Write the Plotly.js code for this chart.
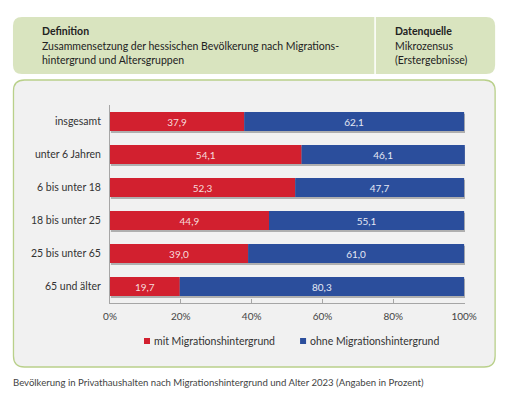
<!DOCTYPE html>
<html><head><meta charset="utf-8">
<script src="https://cdn.plot.ly/plotly-3.0.1.min.js"></script>
<style>html,body{margin:0;padding:0;background:#fff;}#chart{width:510px;height:396px;}</style>
</head><body><div id="chart"></div>
<script>
const categories = ["insgesamt","unter 6 Jahren","6 bis unter 18","18 bis unter 25","25 bis unter 65","65 und älter"];
const seriesNames = ["mit Migrationshintergrund","ohne Migrationshintergrund"];
const mitValues = [37.9,54.1,52.3,44.9,39.0,19.7];
const ohneValues = [62.1,46.1,47.7,55.1,61.0,80.3];
const tickVals = [0,20,40,60,80,100];
const tickLabels = ["0%","20%","40%","60%","80%","100%"];
const colors = ["#d2202f","#2b4e9c"];

const XMAX=100.25;
const W=510,H=396,L=110,B=93,T=105;
const pw=354*XMAX/100, R=W-L-pw;
const ph=H-T-B;
const xp=px=>(px-L)/pw, yp=py=>(H-B-py)/ph;
function rrect(x0,y0,x1,y1,r){
  const P=(x,y)=>xp(x)+','+yp(y);
  return 'M'+P(x0+r,y0)+' L'+P(x1-r,y0)+' Q'+P(x1,y0)+' '+P(x1,y0+r)+
    ' L'+P(x1,y1-r)+' Q'+P(x1,y1)+' '+P(x1-r,y1)+' L'+P(x0+r,y1)+' Q'+P(x0,y1)+' '+P(x0,y1-r)+
    ' L'+P(x0,y0+r)+' Q'+P(x0,y0)+' '+P(x0+r,y0)+' Z';
}
const fmt=v=>v.toFixed(1).replace('.',',');
const font="Lato, 'Open Sans', sans-serif";
const BW=0.58;

const totals=mitValues.map((v,i)=>v+ohneValues[i]);
const shadow={type:'bar',orientation:'h',y:categories,x:totals,base:0.25,width:BW,offset:-BW/2+0.055,
  marker:{color:'rgba(120,120,120,0.55)',line:{width:0}},hoverinfo:'skip',showlegend:false};

const traces=[shadow].concat([mitValues,ohneValues].map((vals,i)=>({
  type:'bar',orientation:'h',name:seriesNames[i],y:categories,x:vals,
  base:i===0?0:mitValues,
  marker:{color:colors[i],line:{width:0}},width:BW,
  text:vals.map(fmt),textposition:'inside',insidetextanchor:'middle',textangle:0,
  textfont:{family:font,size:10,color:i===0?'#f6dcdc':'#e4e8f4'},
  hoverinfo:'skip',showlegend:false,cliponaxis:false
})));

const shapes=[
  {type:'path',xref:'paper',yref:'paper',path:rrect(13,17,495,74,9),fillcolor:'#d9e4bf',line:{width:0},layer:'below'},
  {type:'line',xref:'paper',yref:'paper',x0:xp(375),x1:xp(375),y0:yp(17),y1:yp(74),line:{color:'#ffffff',width:1.5},layer:'below'},
  {type:'path',xref:'paper',yref:'paper',path:rrect(13.5,80,495,367,11),fillcolor:'#f1f1f1',line:{color:'#b9d08a',width:1.3},layer:'below'},
  {type:'rect',xref:'paper',yref:'paper',x0:xp(144),x1:xp(150),y0:yp(338),y1:yp(344),fillcolor:colors[0],line:{width:0}},
  {type:'rect',xref:'paper',yref:'paper',x0:xp(300),x1:xp(306),y0:yp(338),y1:yp(344),fillcolor:colors[1],line:{width:0}}
];
const ann=(x,y,text,opt={})=>Object.assign({xref:'paper',yref:'paper',x:xp(x),y:yp(y),text,showarrow:false,xanchor:'left',yanchor:'middle',font:{family:font,size:10.5,color:'#222'}},opt);
const annotations=[
  ann(40,31,'<b>Definition</b>'),
  ann(40,46,'Zusammensetzung der hessischen Bevölkerung nach Migrations-'),
  ann(40,60,'hintergrund und Altersgruppen'),
  ann(393,31,'<b>Datenquelle</b>'),
  ann(393,46,'Mikrozensus'),
  ann(393,60,'(Erstergebnisse)'),
  ann(152,341,seriesNames[0],{font:{family:font,size:10.5,color:'#333'}}),
  ann(308,341,seriesNames[1],{font:{family:font,size:10.5,color:'#333'}}),
  ann(11,382,'Bevölkerung in Privathaushalten nach Migrationshintergrund und Alter 2023 (Angaben in Prozent)',{font:{family:font,size:9.6,color:'#444'}})
];

const layout={
  width:W,height:H,margin:{l:L,r:R,t:T,b:B,pad:0},
  paper_bgcolor:'#ffffff',plot_bgcolor:'rgba(0,0,0,0)',
  barmode:'overlay',showlegend:false,hovermode:false,
  xaxis:{range:[0,XMAX],tickvals:tickVals,ticktext:tickLabels,showgrid:false,zeroline:false,
    showline:true,linecolor:'#a6a6a6',linewidth:1,ticks:'inside',ticklen:4,tickcolor:'#a6a6a6',
    ticklabelstandoff:4,
    tickfont:{family:font,size:10,color:'#444'},fixedrange:true},
  yaxis:{type:'category',autorange:'reversed',range:[5.5,-0.5],showgrid:false,zeroline:false,
    showline:true,linecolor:'#a6a6a6',linewidth:1,ticks:'',ticklabelstandoff:6,
    tickfont:{family:font,size:10.5,color:'#333'},fixedrange:true},
  shapes,annotations
};
Plotly.newPlot('chart',traces,layout,{displayModeBar:false,staticPlot:true});
</script></body></html>
